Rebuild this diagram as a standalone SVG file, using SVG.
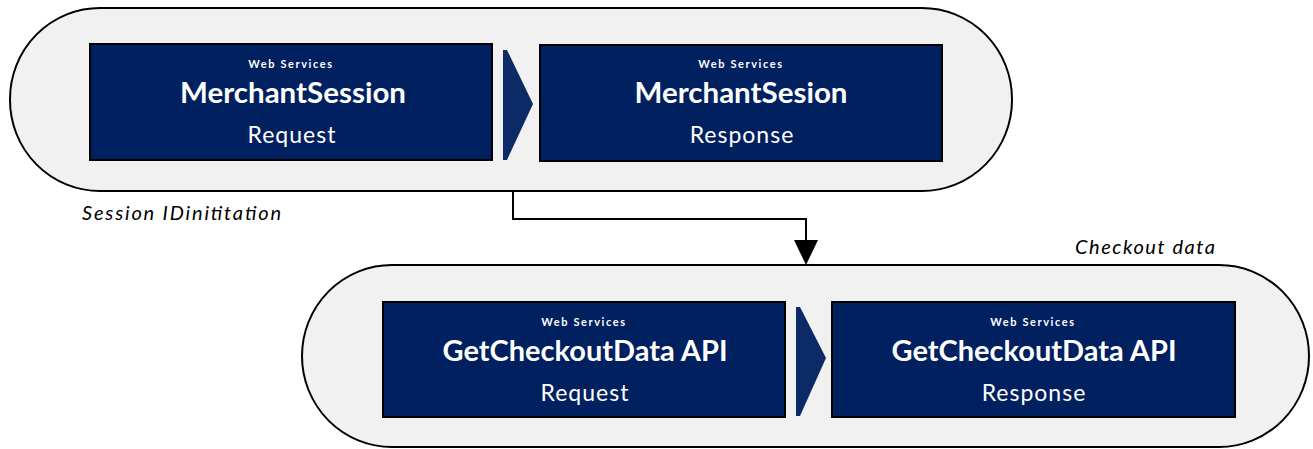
<svg xmlns="http://www.w3.org/2000/svg" width="1313" height="449" viewBox="0 0 1313 449">
<style>
.pill{fill:#f1f1f1;stroke:#000;stroke-width:2}
.box{fill:#002060;stroke:#000;stroke-width:2}
.chev{fill:#0c2a66}
.t{font-family:Lato,"Liberation Sans",sans-serif;fill:#fff;text-anchor:middle}
.ws{font-size:11px;font-weight:bold;letter-spacing:1.6px}
.ttl{font-size:28px;font-weight:bold}
.sub{font-size:23px;letter-spacing:1px}
.lbl{font-family:Lato,"Liberation Sans",sans-serif;font-style:italic;font-size:20px;fill:#000}
.conn{fill:none;stroke:#000;stroke-width:2}
</style>
<g id="group-session">
<rect class="pill" x="10" y="8" width="1002" height="183" rx="90" ry="91"/>
<text class="lbl" x="82" y="220" textLength="199" lengthAdjust="spacing">Session IDinititation</text>
</g>
<g id="group-checkout">
<rect class="pill" x="302" y="265" width="1007" height="182" rx="90" ry="91"/>
<text class="lbl" x="1075" y="254" textLength="140" lengthAdjust="spacing">Checkout data</text>
</g>
<g id="node-ms-request">
<rect class="box" x="90" y="44" width="402" height="116"/>
<text class="t ws" x="291" y="68">Web Services</text>
<text class="t ttl" x="293" y="103" textLength="226" lengthAdjust="spacingAndGlyphs">MerchantSession</text>
<text class="t sub" x="292" y="143">Request</text>
</g>
<g id="chev-1"><polygon class="chev" points="503,50 507,50 533,104 507,160 503,160"/></g>
<g id="node-ms-response">
<rect class="box" x="540" y="45" width="402" height="116"/>
<text class="t ws" x="741" y="68">Web Services</text>
<text class="t ttl" x="741" y="103" textLength="213" lengthAdjust="spacingAndGlyphs">MerchantSesion</text>
<text class="t sub" x="742" y="143">Response</text>
</g>
<g id="node-gcd-request">
<rect class="box" x="383" y="302" width="402" height="115"/>
<text class="t ws" x="584" y="326">Web Services</text>
<text class="t ttl" x="585" y="361" textLength="285" lengthAdjust="spacingAndGlyphs">GetCheckoutData API</text>
<text class="t sub" x="585" y="401">Request</text>
</g>
<g id="chev-2"><polygon class="chev" points="796,307 800,307 826,358 800,416 796,416"/></g>
<g id="node-gcd-response">
<rect class="box" x="832" y="302" width="403" height="115"/>
<text class="t ws" x="1033" y="326">Web Services</text>
<text class="t ttl" x="1034" y="361" textLength="285" lengthAdjust="spacingAndGlyphs">GetCheckoutData API</text>
<text class="t sub" x="1034" y="401">Response</text>
</g>
<g id="connectors">
<path class="conn" d="M513,191 V219 H806 V241"/>
<polygon points="794,240 818,240 806,265" fill="#000"/>
</g>
</svg>
